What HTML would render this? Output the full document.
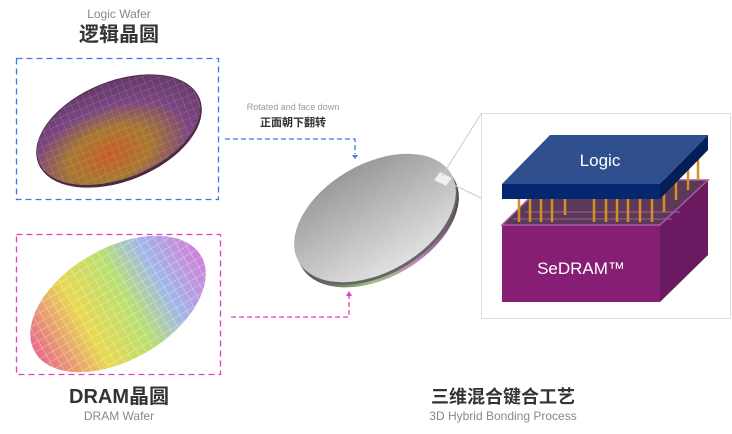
<!DOCTYPE html>
<html><head><meta charset="utf-8"><style>
html,body{margin:0;padding:0;background:#fff;width:732px;height:434px;overflow:hidden}
svg{display:block}
text{font-family:"Liberation Sans","Noto Sans CJK SC",sans-serif}
</style></head><body>
<svg width="732" height="434" viewBox="0 0 732 434" xmlns="http://www.w3.org/2000/svg">
<defs>
<radialGradient id="lg" cx="0.4" cy="0.7" r="0.7">
<stop offset="0" stop-color="#c85a2a"/><stop offset="0.35" stop-color="#a8782e"/><stop offset="0.7" stop-color="#7a4580"/><stop offset="1" stop-color="#663a6a"/></radialGradient>
<linearGradient id="dg" x1="0" y1="0" x2="1" y2="0">
<stop offset="0" stop-color="#e86a8a"/><stop offset="0.3" stop-color="#e8d850"/><stop offset="0.55" stop-color="#b8e070"/><stop offset="0.75" stop-color="#a0b8e8"/><stop offset="1" stop-color="#d080d8"/></linearGradient>
<linearGradient id="cg" x1="0" y1="0" x2="0" y2="1">
<stop offset="0" stop-color="#9a9a9a"/><stop offset="1" stop-color="#e0e0e0"/></linearGradient>
<linearGradient id="eg" x1="0" y1="0" x2="1" y2="0">
<stop offset="0" stop-color="#505050"/><stop offset="0.3" stop-color="#a0c080"/><stop offset="0.6" stop-color="#c080c0"/><stop offset="1" stop-color="#404040"/></linearGradient>
<pattern id="grid" width="7" height="7" patternUnits="userSpaceOnUse"><path d="M0 0H7M0 0V7" stroke="#ffffff" stroke-opacity="0.25" stroke-width="0.8" fill="none"/></pattern>
<pattern id="grid2" width="8" height="8" patternUnits="userSpaceOnUse"><path d="M0 0H8M0 0V8" stroke="#ffffff" stroke-opacity="0.45" stroke-width="1.2" fill="none"/></pattern>
</defs>

<text x="119" y="18" font-size="12" fill="#888" text-anchor="middle">Logic Wafer</text>
<text x="119" y="41" font-size="20" font-weight="bold" fill="#333" text-anchor="middle">逻辑晶圆</text>
<rect x="16.5" y="58.5" width="202" height="141" fill="none" stroke="#3a78e8" stroke-width="1.3" stroke-dasharray="6,4"/>
<g transform="translate(119,131) rotate(-22)">
<ellipse rx="87" ry="50" fill="#4a2a40"/>
<ellipse rx="86" ry="48" cy="-1" fill="url(#lg)"/>
<ellipse rx="86" ry="48" cy="-1" fill="url(#grid)"/>
</g>

<text x="293" y="110" font-size="9" fill="#999" text-anchor="middle">Rotated and face down</text>
<text x="293" y="126" font-size="11" font-weight="bold" fill="#333" text-anchor="middle">正面朝下翻转</text>
<path d="M225 139H355V154" fill="none" stroke="#3a78e8" stroke-width="1.3" stroke-dasharray="5,3"/>
<path d="M352 155L358 155L355 159Z" fill="#3a78e8"/>

<rect x="16.5" y="234.5" width="204" height="140" fill="none" stroke="#e040c0" stroke-width="1.3" stroke-dasharray="6,4"/>
<g transform="translate(118,304) rotate(-30)">
<ellipse rx="96" ry="56" fill="url(#dg)"/>
<ellipse rx="96" ry="56" fill="url(#grid2)"/>
</g>
<path d="M231 317H349V296" fill="none" stroke="#e040c0" stroke-width="1.3" stroke-dasharray="5,3"/>
<path d="M346 296L352 296L349 291Z" fill="#e040c0"/>

<text x="119" y="403" font-size="20" font-weight="bold" fill="#333" text-anchor="middle">DRAM晶圆</text>
<text x="119" y="420" font-size="12" fill="#888" text-anchor="middle">DRAM Wafer</text>

<g transform="translate(375,218) rotate(-30)">
<ellipse rx="88" ry="54" cy="6" fill="url(#eg)"/>
<ellipse rx="88" ry="54" cy="3" fill="#666"/>
<ellipse rx="88" ry="54" fill="url(#cg)"/>
</g>
<path d="M434 180L440 172L452 178L446 186Z" fill="#f0f0f0" stroke="#ccc" stroke-width="0.5"/>
<line x1="442" y1="176" x2="481" y2="114" stroke="#ccc" stroke-width="1"/>
<line x1="450" y1="183" x2="481" y2="198" stroke="#ccc" stroke-width="1"/>

<rect x="481.5" y="113.5" width="249" height="205" fill="#fff" stroke="#ddd" stroke-width="1"/>
<path d="M502 225L548 180L708 180L660 225Z" fill="#5a3a58"/>
<path d="M660 225L708 180L708 255L660 302Z" fill="#6a1a60"/>
<rect x="502" y="225" width="158" height="77" fill="#861e73"/>
<path d="M502 225L548 180H708L660 225Z" fill="none" stroke="#a85aa0" stroke-width="1.5"/>
<path d="M525 212H680M513 219H672" stroke="#a85aa0" stroke-width="1"/>
<g stroke="#d49020" stroke-width="2.5">
<path d="M519 199V222M530 199V222M541 199V222M552 199V222M565 199V215M594 199V222M606 199V222M617 199V222M628 199V222M640 199V222M652 199V222M664 190V212M676 176V200M688 168V190M698 150V180"/>
</g>
<text x="581" y="274" font-size="17" fill="#fff" text-anchor="middle">SeDRAM™</text>
<path d="M502 184L550 135H708L660 184Z" fill="#2f4f8e"/>
<rect x="502" y="184" width="158" height="15" fill="#052770"/>
<path d="M660 184L708 135V150L660 199Z" fill="#041e58"/>
<text x="600" y="166" font-size="17" fill="#fff" text-anchor="middle">Logic</text>

<text x="503" y="403" font-size="18" font-weight="bold" fill="#333" text-anchor="middle">三维混合键合工艺</text>
<text x="503" y="420" font-size="12" fill="#888" text-anchor="middle">3D Hybrid Bonding Process</text>
</svg>
</body></html>
